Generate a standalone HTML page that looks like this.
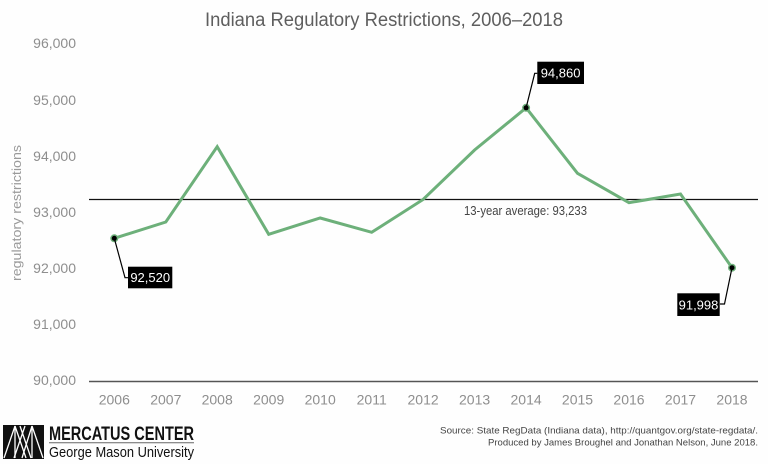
<!DOCTYPE html>
<html>
<head>
<meta charset="utf-8">
<style>
  html,body{margin:0;padding:0;background:#fff;}
  svg{display:block;}
  text{font-family:"Liberation Sans",sans-serif;}
</style>
</head>
<body>
<svg width="768" height="464" viewBox="0 0 768 464" xmlns="http://www.w3.org/2000/svg">
  <rect width="768" height="464" fill="#fefefe"/>
  <!-- Title -->
  <text x="384" y="26" text-anchor="middle" font-size="19" fill="#5e5e5e" textLength="358" lengthAdjust="spacingAndGlyphs">Indiana Regulatory Restrictions, 2006–2018</text>

  <!-- Y axis title -->
  <text transform="translate(21,213) rotate(-90)" text-anchor="middle" font-size="13" fill="#9a9a9a" textLength="136" lengthAdjust="spacingAndGlyphs">regulatory restrictions</text>

  <!-- Y tick labels -->
  <g font-size="14" fill="#8e8e8e" text-anchor="end">
    <text x="76" y="48">96,000</text>
    <text x="76" y="105">95,000</text>
    <text x="76" y="161">94,000</text>
    <text x="76" y="217">93,000</text>
    <text x="76" y="273">92,000</text>
    <text x="76" y="329">91,000</text>
    <text x="76" y="385">90,000</text>
  </g>

  <!-- X axis line -->
  <line x1="89" y1="381.5" x2="758" y2="381.5" stroke="#555" stroke-width="1.5"/>

  <!-- X labels -->
  <g font-size="14" fill="#8e8e8e" text-anchor="middle">
    <text x="114.3" y="404.5">2006</text>
    <text x="165.8" y="404.5">2007</text>
    <text x="217.2" y="404.5">2008</text>
    <text x="268.7" y="404.5">2009</text>
    <text x="320.2" y="404.5">2010</text>
    <text x="371.7" y="404.5">2011</text>
    <text x="423.1" y="404.5">2012</text>
    <text x="474.6" y="404.5">2013</text>
    <text x="526.1" y="404.5">2014</text>
    <text x="577.5" y="404.5">2015</text>
    <text x="629.0" y="404.5">2016</text>
    <text x="680.5" y="404.5">2017</text>
    <text x="732.0" y="404.5">2018</text>
  </g>

  <!-- Average line -->
  <line x1="89" y1="199.5" x2="758" y2="199.5" stroke="#111" stroke-width="1.2"/>
  <text x="464" y="215" font-size="12.5" fill="#444" textLength="123" lengthAdjust="spacingAndGlyphs">13-year average: 93,233</text>

  <!-- Data line -->
  <polyline fill="none" stroke="#6db07a" stroke-width="3" stroke-linejoin="miter"
    points="114.3,238.3 165.8,222 217.2,146.7 268.7,234.3 320.2,218 371.7,232.3 423.1,199.5 474.6,150 526.1,107.8 577.5,173.3 629.0,202.7 680.5,194 732,267.7"/>

  <!-- Markers -->
  <g>
    <circle cx="114.3" cy="238.3" r="4" fill="#6db07a"/>
    <circle cx="114.3" cy="238.3" r="2.5" fill="#000"/>
    <circle cx="526.1" cy="107.8" r="4" fill="#6db07a"/>
    <circle cx="526.1" cy="107.8" r="2.5" fill="#000"/>
    <circle cx="732" cy="267.7" r="4" fill="#6db07a"/>
    <circle cx="732" cy="267.7" r="2.5" fill="#000"/>
  </g>

  <!-- Leaders -->
  <polyline fill="none" stroke="#000" stroke-width="1.2" points="114.3,238.3 125,277.7 128,277.7"/>
  <polyline fill="none" stroke="#000" stroke-width="1.2" points="526.1,107.8 534.7,73.3 537.3,73.3"/>
  <polyline fill="none" stroke="#000" stroke-width="1.2" points="732,267.7 724.5,304 720,304"/>

  <!-- Label boxes -->
  <rect x="128" y="266.7" width="44.3" height="21.6" fill="#000"/>
  <text x="150.2" y="282" text-anchor="middle" font-size="13" fill="#fff">92,520</text>
  <rect x="537.3" y="61.7" width="46.7" height="22.3" fill="#000"/>
  <text x="560.6" y="77.3" text-anchor="middle" font-size="13" fill="#fff">94,860</text>
  <rect x="677.3" y="293.3" width="42.4" height="22.7" fill="#000"/>
  <text x="698.5" y="309.5" text-anchor="middle" font-size="13" fill="#fff">91,998</text>

  <!-- Source -->
  <g font-size="9.5" fill="#444" text-anchor="end">
    <text x="758" y="433.3" textLength="318" lengthAdjust="spacingAndGlyphs">Source: State RegData (Indiana data), http://quantgov.org/state-regdata/.</text>
    <text x="758" y="445.3" textLength="270" lengthAdjust="spacingAndGlyphs">Produced by James Broughel and Jonathan Nelson, June 2018.</text>
  </g>

  <!-- Logo -->
  <g>
    <rect x="3" y="425" width="41" height="34" fill="#111"/>
    <g stroke="#fff" stroke-width="1.3" fill="none">
      <line x1="4" y1="458" x2="15" y2="426"/>
      <line x1="15" y1="426" x2="26" y2="458"/>
      <line x1="14" y1="458" x2="25" y2="426"/>
      <line x1="20" y1="426" x2="31" y2="458"/>
      <line x1="32" y1="426" x2="22" y2="458"/>
      <line x1="32" y1="426" x2="43" y2="458"/>
      <line x1="15" y1="426" x2="15" y2="458"/>
      <line x1="32" y1="426" x2="32" y2="458"/>
    </g>
    <text x="49" y="440" font-size="19" font-weight="bold" fill="#111" textLength="145" lengthAdjust="spacingAndGlyphs">MERCATUS CENTER</text>
    <line x1="49" y1="442.7" x2="194" y2="442.7" stroke="#666" stroke-width="1"/>
    <text x="49" y="457" font-size="15" fill="#111" textLength="145" lengthAdjust="spacingAndGlyphs">George Mason University</text>
  </g>
</svg>
</body>
</html>
